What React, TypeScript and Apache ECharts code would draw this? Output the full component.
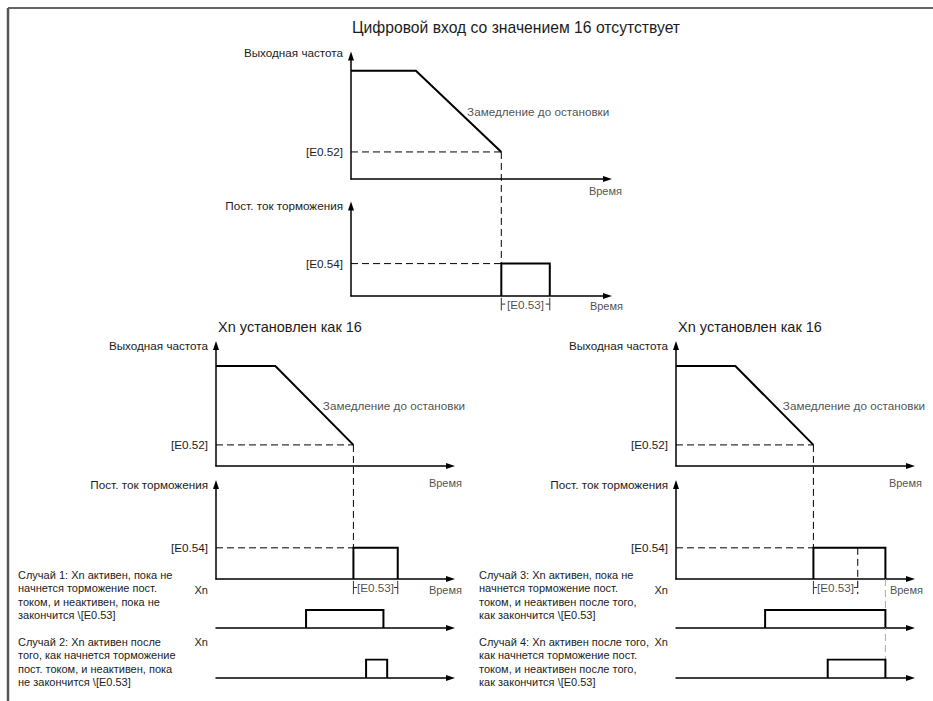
import React, { useEffect, useRef } from 'react';
import * as echarts from 'echarts';

// ---- data (time in arbitrary units 0..10 along every time axis) ----
const freqTimes = [0, 2.53, 5.86];
const freqLevelsTop = [8.8, 8.8, 2.2];
const freqLevelsBottom = [8.3, 8.3, 1.75];
const dcStart = 5.86;
const dcEndNormal = 7.75; // end of [E0.53]
const dcEndExtended = 8.93; // cases 3/4: braking lasts until Xn turns off
const dcLevelTop = 3.6;
const dcLevelBottom = 3.3;
const xnCase1 = [3.84, 7.14];
const xnCase2 = [6.4, 7.3];
const xnCase3 = [3.8, 8.93];
const xnCase4 = [6.47, 8.93];
const bracketSpan = [-0.2, -1.6];
const bracketMid = -0.9;
const bracketStub = 0.16;
const timeAxisEnd = 10;

// ---- texts ----
const TITLE_MAIN = 'Цифровой вход со значением 16 отсутствует';
const TITLE_SUB = 'Xn установлен как 16';
const NAME_FREQ = 'Выходная частота';
const NAME_DC = 'Пост. ток торможения';
const NAME_TIME = 'Время';
const NAME_XN = 'Xn';
const TICK_E052 = '[E0.52]';
const TICK_E054 = '[E0.54]';
const TICK_E053 = '[E0.53]';
const NOTE_DECEL = 'Замедление до остановки';
const CASE_TEXTS = [
  'Случай 1: Xn активен, пока не\nначнется торможение пост.\nтоком, и неактивен, пока не\nзакончится \\[E0.53]',
  'Случай 2: Xn активен после\nтого, как начнется торможение\nпост. током, и неактивен, пока\nне закончится \\[E0.53]',
  'Случай 3: Xn активен, пока не\nначнется торможение пост.\nтоком, и неактивен после того,\nкак закончится \\[E0.53]',
  'Случай 4: Xn активен после того,\nкак начнется торможение пост.\nтоком, и неактивен после того,\nкак закончится \\[E0.53]',
];

const FONT = '"Liberation Sans", Arial, Helvetica, sans-serif';
const TXT = '#1c1c1c';
const LBL = 11.7;

// ---- layout ----
type Panel = {
  left: number; top: number; width: number; height: number;
  yMax: number; yName: string; yNameGap: number;
  tickVal?: number; tickText?: string;
  xNameGap?: number; xNameDown?: number;
};
const TW = 256.5;
const BW = 234.5;
const panels: Panel[] = [
  // 0 A top freq
  { left: 351, top: 56, width: TW, height: 123, yMax: 10, yName: NAME_FREQ, yNameGap: 3.5, tickVal: freqLevelsTop[2], tickText: TICK_E052, xNameGap: 14.5, xNameDown: 12 },
  // 1 B top dc
  { left: 351, top: 206, width: TW, height: 90, yMax: 10, yName: NAME_DC, yNameGap: 0.5, tickVal: dcLevelTop, tickText: TICK_E054, xNameGap: 15.5, xNameDown: 10 },
  // 2 C left freq
  { left: 216, top: 345.5, width: BW, height: 120.5, yMax: 10, yName: NAME_FREQ, yNameGap: 0, tickVal: freqLevelsBottom[2], tickText: TICK_E052, xNameGap: 11.5, xNameDown: 16.7 },
  // 3 D left dc
  { left: 216, top: 484.5, width: BW, height: 94.5, yMax: 10, yName: NAME_DC, yNameGap: 0.5, tickVal: dcLevelBottom, tickText: TICK_E054, xNameGap: 11.5, xNameDown: 11 },
  // 4 X1
  { left: 216, top: 610, width: BW, height: 18, yMax: 1, yName: NAME_XN, yNameGap: 20 },
  // 5 X2
  { left: 216, top: 659.5, width: BW, height: 18.5, yMax: 1, yName: NAME_XN, yNameGap: 17.5 },
  // 6 E right freq
  { left: 676, top: 345.5, width: BW, height: 120.5, yMax: 10, yName: NAME_FREQ, yNameGap: 0, tickVal: freqLevelsBottom[2], tickText: TICK_E052, xNameGap: 11.5, xNameDown: 16.7 },
  // 7 F right dc
  { left: 676, top: 484.5, width: BW, height: 94.5, yMax: 10, yName: NAME_DC, yNameGap: 0.5, tickVal: dcLevelBottom, tickText: TICK_E054, xNameGap: 12.5, xNameDown: 11 },
  // 8 X3
  { left: 676, top: 610, width: BW, height: 18, yMax: 1, yName: NAME_XN, yNameGap: 20 },
  // 9 X4
  { left: 676, top: 659.5, width: BW, height: 18.5, yMax: 1, yName: NAME_XN, yNameGap: 17.5 },
];

const seg = (gi: number, data: number[][], o: any = {}) => ({
  type: 'line',
  xAxisIndex: gi,
  yAxisIndex: gi,
  data,
  symbol: 'none',
  silent: true,
  clip: o.clip ?? true,
  z: o.z ?? 3,
  lineStyle: { color: o.color ?? '#000', width: o.width ?? 2, type: o.dash ?? 'solid', cap: 'butt', join: 'miter' },
  emphasis: { disabled: true },
});

const note = (gi: number, pt: number[], text: string, label: any) => ({
  type: 'scatter',
  xAxisIndex: gi,
  yAxisIndex: gi,
  data: [pt],
  symbolSize: 1,
  silent: true,
  clip: false,
  itemStyle: { color: 'rgba(0,0,0,0)' },
  label: { show: true, formatter: text, fontSize: LBL, color: TXT, fontFamily: FONT, ...label },
  emphasis: { disabled: true },
});

const DASH = [7, 4];

const freqSeries = (gi: number, levels: number[]) => {
  const pts = freqTimes.map((t, i) => [t, levels[i]]);
  const mid = [(freqTimes[1] + freqTimes[2]) / 2, (levels[1] + levels[2]) / 2];
  return [
    seg(gi, pts, { width: 2 }),
    seg(gi, [[0, levels[2]], [freqTimes[2], levels[2]]], { width: 1, dash: DASH }),
    note(gi, mid, NOTE_DECEL, { position: 'right', distance: 8 }),
  ];
};

const bracketSeries = (gi: number, t0: number, t1: number, rightTick: boolean) => {
  const s: any[] = [
    seg(gi, [[t0, bracketSpan[0]], [t0, bracketSpan[1]]], { width: 1, clip: false, color: '#333' }),
    seg(gi, [[t0, bracketMid], [t0 + bracketStub, bracketMid]], { width: 1, clip: false, color: '#333' }),
    seg(gi, [[t1 - bracketStub, bracketMid], [t1, bracketMid]], { width: 1, clip: false, color: '#333' }),
    note(gi, [(t0 + t1) / 2, bracketMid], TICK_E053, { position: 'inside', align: 'center', verticalAlign: 'middle' }),
  ];
  if (rightTick) s.push(seg(gi, [[t1, bracketSpan[0]], [t1, bracketSpan[1]]], { width: 1, clip: false, color: '#333' }));
  return s;
};

const dcSeries = (gi: number, end: number, level: number, extended: boolean) => {
  const s: any[] = [
    seg(gi, [[dcStart, 0], [dcStart, level], [end, level], [end, 0]], { width: 2 }),
    seg(gi, [[0, level], [dcStart, level]], { width: 1, dash: DASH }),
  ];
  if (extended) {
    s.push(seg(gi, [[dcEndNormal, level], [dcEndNormal, bracketSpan[1]]], { width: 1, dash: DASH, clip: false }));
    s.push(...bracketSeries(gi, dcStart, dcEndNormal, false));
  } else {
    s.push(...bracketSeries(gi, dcStart, dcEndNormal, true));
  }
  return s;
};

const timeName = (gi: number) => {
  const p = panels[gi];
  return note(gi, [timeAxisEnd, 0], NAME_TIME, {
    position: 'inside', align: 'right', verticalAlign: 'middle', offset: [p.xNameGap ?? 0, p.xNameDown ?? 0], fontSize: 11,
  });
};

const pulse = (gi: number, p: number[]) => seg(gi, [[p[0], 0], [p[0], 1], [p[1], 1], [p[1], 0]], { width: 2 });

const baseSeries = (): any[] => [
  ...freqSeries(0, freqLevelsTop),
  ...dcSeries(1, dcEndNormal, dcLevelTop, false),
  ...freqSeries(2, freqLevelsBottom),
  ...dcSeries(3, dcEndNormal, dcLevelBottom, false),
  pulse(4, xnCase1),
  pulse(5, xnCase2),
  ...freqSeries(6, freqLevelsBottom),
  ...dcSeries(7, dcEndExtended, dcLevelBottom, true),
  pulse(8, xnCase3),
  pulse(9, xnCase4),
  ...[0, 1, 2, 3, 6, 7].map(timeName),
];

const textEl = (x: number, y: number, text: string, fontSize: number, align: string, vAlign: string, lineHeight?: number) => ({
  type: 'text',
  x,
  y,
  silent: true,
  style: { text, fontSize, fontFamily: FONT, fill: TXT, align, verticalAlign: vAlign, lineHeight },
});

const buildOption = (extra: any[]) => ({
  animation: false,
  grid: panels.map((p) => ({ left: p.left, top: p.top, width: p.width, height: p.height, containLabel: false, outerBoundsMode: 'none', show: false })),
  xAxis: panels.map((p, i) => ({
    gridIndex: i,
    type: 'value',
    min: 0,
    max: timeAxisEnd,
    axisLine: { show: true, onZero: false, symbol: ['none', 'triangle'], symbolSize: [6, 9], lineStyle: { color: '#000', width: 1.5 } },
    axisTick: { show: false },
    axisLabel: { show: false },
    splitLine: { show: false },
  })),
  yAxis: panels.map((p, i) => ({
    gridIndex: i,
    type: 'value',
    min: 0,
    max: p.yMax,
    name: p.yName,
    nameLocation: 'end',
    nameGap: p.yNameGap,
    nameMoveOverlap: false,
    nameTextStyle: {
      fontSize: p.yMax > 1 ? LBL : 11, color: TXT, fontFamily: FONT, align: 'right', verticalAlign: 'middle', padding: [0, 8, 0, 0],
    },
    axisLine: {
      show: p.yMax > 1,
      onZero: false,
      symbol: ['none', 'triangle'],
      symbolSize: [6, 9],
      lineStyle: { color: '#000', width: 1.5 },
    },
    axisTick: { show: false },
    axisLabel: {
      show: p.tickVal !== undefined,
      customValues: p.tickVal !== undefined ? [p.tickVal] : undefined,
      formatter: (v: number) => (p.tickVal !== undefined && Math.abs(v - p.tickVal) < 1e-6 ? p.tickText : ''),
      margin: 8,
      fontSize: LBL,
      color: TXT,
      fontFamily: FONT,
    },
    splitLine: { show: false },
  })),
  series: [...baseSeries(), ...extra],
  graphic: [
    { type: 'line', silent: true, shape: { x1: 8, y1: 8, x2: 933, y2: 8 }, style: { stroke: '#666', lineWidth: 2 } },
    { type: 'line', silent: true, shape: { x1: 8, y1: 8, x2: 8, y2: 701 }, style: { stroke: '#555', lineWidth: 2.5 } },
    textEl(516, 27, TITLE_MAIN, 15.7, 'center', 'middle'),
    textEl(290, 327, TITLE_SUB, 14.5, 'center', 'middle'),
    textEl(750, 327, TITLE_SUB, 14.5, 'center', 'middle'),
    textEl(18, 568.3, CASE_TEXTS[0], 11, 'left', 'top', 13.4),
    textEl(18, 635.3, CASE_TEXTS[1], 11, 'left', 'top', 13.4),
    textEl(479, 568.3, CASE_TEXTS[2], 11, 'left', 'top', 13.4),
    textEl(479, 635.3, CASE_TEXTS[3], 11, 'left', 'top', 13.4),
  ],
});

export default function App() {
  const ref = useRef<HTMLDivElement>(null);
  useEffect(() => {
    document.body.style.margin = '0';
    if (!ref.current) return;
    const chart = echarts.init(ref.current, undefined, { renderer: 'svg' });
    chart.setOption(buildOption([]) as any);

    // value in grid `to` that sits at the same pixel height as point `pt` of grid `from`
    const yIn = (from: number, to: number, pt: number[]) => {
      const px = chart.convertToPixel({ gridIndex: from } as any, pt) as number[];
      return (chart.convertFromPixel({ gridIndex: to } as any, px) as number[])[1];
    };
    const extra: any[] = [
      // frequency reaches [E0.52] -> DC braking starts
      seg(1, [[dcStart, yIn(0, 1, [dcStart, freqLevelsTop[2]])], [dcStart, dcLevelTop]], { width: 1, dash: DASH, clip: false }),
      seg(3, [[dcStart, yIn(2, 3, [dcStart, freqLevelsBottom[2]])], [dcStart, dcLevelBottom]], { width: 1, dash: DASH, clip: false }),
      seg(7, [[dcStart, yIn(6, 7, [dcStart, freqLevelsBottom[2]])], [dcStart, dcLevelBottom]], { width: 1, dash: DASH, clip: false }),
      // braking end aligned with Xn turning off (cases 3/4)
      seg(7, [[dcEndExtended, 0], [dcEndExtended, yIn(9, 7, [dcEndExtended, 0])]], { width: 1, dash: DASH, clip: false, color: '#aaa', z: 1 }),
    ];
    chart.setOption(buildOption(extra) as any, true);
    return () => chart.dispose();
  }, []);
  return <div ref={ref} style={{ width: 933, height: 701 }} />;
}
